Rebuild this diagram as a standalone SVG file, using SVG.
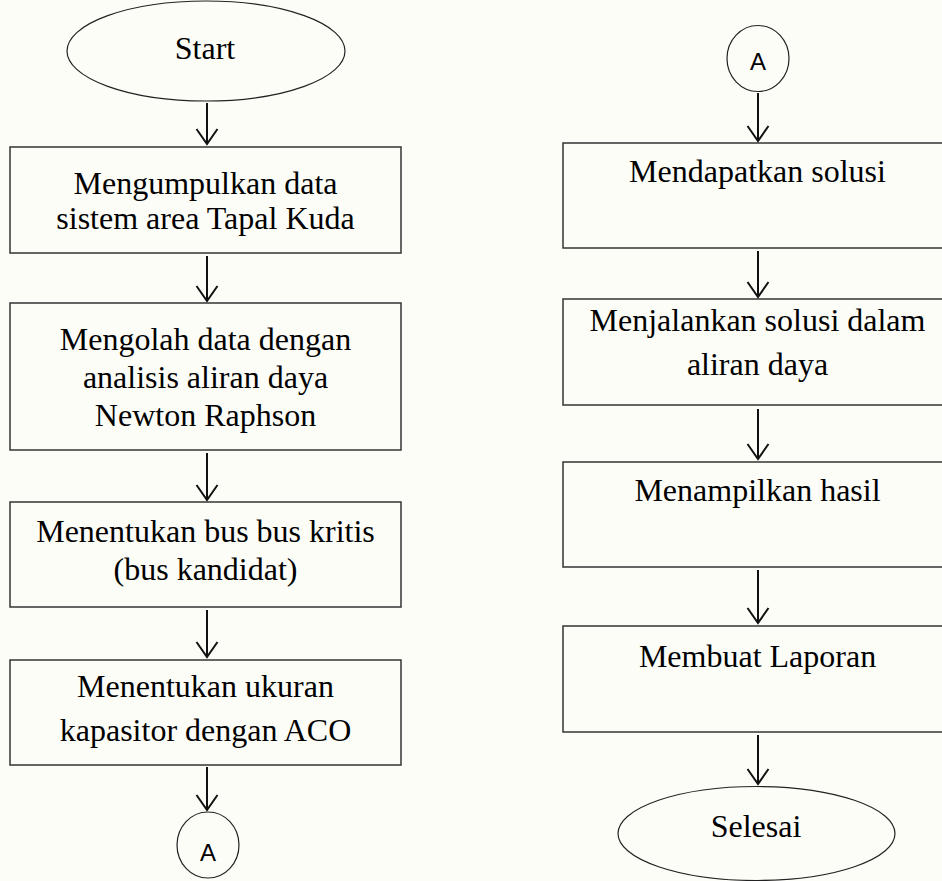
<svg xmlns="http://www.w3.org/2000/svg" width="942" height="881" viewBox="0 0 942 881">
<defs>
<style>
.bg{fill:#fdfdf8}
.box{fill:none;stroke:#333;stroke-width:1.5}
.term{fill:none;stroke:#222;stroke-width:1.2}
.t{font-family:"Liberation Serif","Times New Roman",serif;font-size:32px;fill:#000;text-anchor:middle}
.a{font-family:"Liberation Sans",Arial,sans-serif;font-size:24px;fill:#000;text-anchor:middle}
.c{fill:none;stroke:#111;stroke-width:2;marker-end:url(#ah)}
</style>
<marker id="ah" markerUnits="userSpaceOnUse" markerWidth="30" markerHeight="30" refX="0" refY="0" orient="auto" overflow="visible">
<path d="M-15,-10.5 L0,0 L-15,10.5" fill="none" stroke="#111" stroke-width="2"/>
</marker>
</defs>
<rect class="bg" x="0" y="0" width="942" height="881"/>
<g id="connectors">
<path class="c" d="M207,103 V144"/>
<path class="c" d="M207,256 V301"/>
<path class="c" d="M207,453 V500"/>
<path class="c" d="M207,610 V657"/>
<path class="c" d="M207,767 V810"/>
<path class="c" d="M758,93 V141"/>
<path class="c" d="M758,251 V297"/>
<path class="c" d="M758,409 V459"/>
<path class="c" d="M758,570 V623"/>
<path class="c" d="M758,735 V784"/>
</g>
<g id="start">
<ellipse class="term" cx="206" cy="51" rx="139" ry="50"/>
<text class="t" x="205" y="59">Start</text>
</g>
<g id="box1">
<rect class="box" x="10" y="147" width="391" height="106"/>
<text class="t" x="205.5" y="194">Mengumpulkan data</text>
<text class="t" x="205.5" y="229">sistem area Tapal Kuda</text>
</g>
<g id="box2">
<rect class="box" x="10" y="303" width="391" height="147"/>
<text class="t" x="205.5" y="350">Mengolah data dengan</text>
<text class="t" x="205.5" y="388">analisis aliran daya</text>
<text class="t" x="205.5" y="426">Newton Raphson</text>
</g>
<g id="box3">
<rect class="box" x="10" y="502" width="391" height="105"/>
<text class="t" x="205.5" y="542">Menentukan bus bus kritis</text>
<text class="t" x="205.5" y="580">(bus kandidat)</text>
</g>
<g id="box4">
<rect class="box" x="10" y="660" width="391" height="105"/>
<text class="t" x="205.5" y="697">Menentukan ukuran</text>
<text class="t" x="205.5" y="741">kapasitor dengan ACO</text>
</g>
<g id="connA1">
<ellipse class="term" cx="208" cy="845" rx="31" ry="33"/>
<text class="a" x="208" y="861">A</text>
</g>
<g id="connA2">
<ellipse class="term" cx="758" cy="58.5" rx="31" ry="33"/>
<text class="a" x="758" y="70">A</text>
</g>
<g id="box5">
<rect class="box" x="563" y="143" width="400" height="105"/>
<text class="t" x="757.5" y="182">Mendapatkan solusi</text>
</g>
<g id="box6">
<rect class="box" x="563" y="299" width="400" height="106"/>
<text class="t" x="757.5" y="331">Menjalankan solusi dalam</text>
<text class="t" x="757.5" y="375">aliran daya</text>
</g>
<g id="box7">
<rect class="box" x="563" y="462" width="400" height="105"/>
<text class="t" x="757.5" y="501">Menampilkan hasil</text>
</g>
<g id="box8">
<rect class="box" x="563" y="626" width="400" height="106"/>
<text class="t" x="757.5" y="667">Membuat Laporan</text>
</g>
<g id="end">
<ellipse class="term" cx="756.5" cy="833.5" rx="138.5" ry="47"/>
<text class="t" x="756" y="837">Selesai</text>
</g>
</svg>
